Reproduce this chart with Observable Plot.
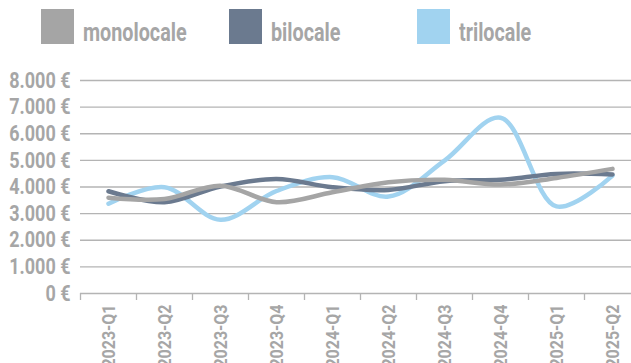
<!DOCTYPE html>
<html><head><meta charset="utf-8">
<script src="https://cdn.jsdelivr.net/npm/d3@7"></script>
<script src="https://cdn.jsdelivr.net/npm/@observablehq/plot@0.6"></script>
<style>
html,body{margin:0;padding:0;background:#fff;overflow:hidden;width:631px;height:363px}
#wrap{position:relative;width:631px;height:363px;overflow:hidden}
#wrap svg{position:absolute;left:0;top:0}
.sw{position:absolute;top:9px;width:33px;height:35px}
.lt{position:absolute;top:18px;font:bold 25px Roboto,sans-serif;color:#a6a6a6;line-height:30px;transform-origin:0 0;transform:scaleX(0.79);white-space:nowrap}
</style></head><body><div id="wrap"></div>
<script>
const quarters = ["2023-Q1","2023-Q2","2023-Q3","2023-Q4","2024-Q1","2024-Q2","2024-Q3","2024-Q4","2025-Q1","2025-Q2"];
const monolocale = [3600,3550,4050,3430,3800,4180,4270,4090,4340,4680];
const bilocale   = [3840,3430,4020,4300,3990,3890,4220,4270,4490,4470];
const trilocale  = [3370,3990,2770,3850,4370,3640,4990,6600,3270,4430];
const seriesNames = ["monolocale","bilocale","trilocale"];
const seriesColors = ["#a5a5a5","#6b7a8f","#a1d3f0"];
const yTicks = [0,1000,2000,3000,4000,5000,6000,7000,8000];

const seriesValues = {monolocale, bilocale, trilocale};
// draw order: trilocale first, monolocale on top
const drawOrder = ["trilocale","bilocale","monolocale"];
const rows = drawOrder.flatMap(s => quarters.map((q,i) => ({quarter:q, value:seriesValues[s][i], series:s})));

const loc = d3.formatLocale({decimal:",", thousands:".", grouping:[3], currency:["",""]});
const fmt = v => loc.format(",.0f")(v) + " €";

const FONT = 'Roboto,sans-serif';
const chart = Plot.plot({
  width: 631, height: 363,
  marginTop: 80, marginBottom: 70, marginLeft: 80, marginRight: 0,
  style: {fontFamily: FONT, fontWeight: "bold", color: "#a6a6a6", background: "transparent"},
  x: {type: "point", domain: quarters, range: [108, 612], padding: 0, label: null, tickSize: 0, tickRotate: -90, tickPadding: 11},
  y: {domain: [0, 8000], range: [293, 80], ticks: yTicks, tickFormat: fmt, tickSize: 0, tickPadding: 10, label: null},
  color: {domain: seriesNames, range: seriesColors},
  marks: [
    Plot.ruleY(yTicks, {stroke: "#b4b4b4", strokeWidth: 1.3}),
    Plot.ruleX(quarters, {x: d => d, y1: 0, y2: 0, insetBottom: -7, dx: -28, stroke: "#b4b4b4", strokeWidth: 1.3}),
    Plot.line(rows, {x: "quarter", y: "value", z: "series", stroke: "series", strokeWidth: 4.5, curve: "catmull-rom", strokeLinecap: "round", strokeLinejoin: "round"})
  ]
});
const wrap = document.getElementById("wrap");
wrap.appendChild(chart);

// condense tick labels (the reference uses a condensed face)
function condense(sel, size, k) {
  chart.querySelectorAll(sel).forEach(t => {
    t.setAttribute("font-size", size);
    const L = t.getComputedTextLength();
    t.setAttribute("textLength", (L * k).toFixed(1));
    t.setAttribute("lengthAdjust", "spacingAndGlyphs");
  });
}
condense("g[aria-label='y-axis tick label'] text", 22.5, 0.8);
condense("g[aria-label='x-axis tick label'] text", 19, 0.84);

// legend built from series arrays
const legX = [41, 229, 417];
seriesNames.forEach((s, i) => {
  const sw = document.createElement("div");
  sw.className = "sw"; sw.style.left = legX[i] + "px"; sw.style.background = seriesColors[i];
  const t = document.createElement("div");
  t.className = "lt"; t.style.left = (legX[i] + 42) + "px"; t.textContent = s;
  wrap.appendChild(sw); wrap.appendChild(t);
});
</script></body></html>
